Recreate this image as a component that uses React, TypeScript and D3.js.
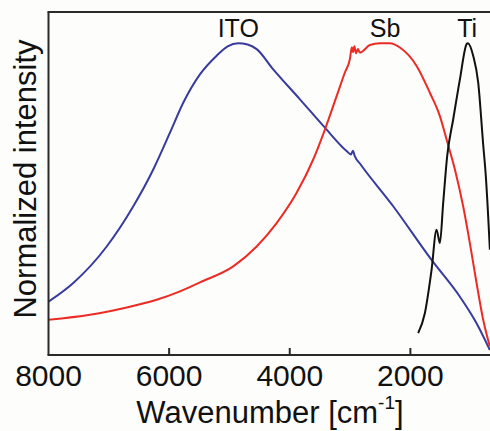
import React, { useEffect, useRef } from 'react';
import * as d3 from 'd3';

// [wavenumber, normalized intensity]
const ito: [number, number][] = [
  [8000, 0.171], [7589, 0.231], [7035, 0.348], [6594, 0.477], [6263, 0.595],
  [5986, 0.713], [5766, 0.809], [5489, 0.9], [5212, 0.96], [5030, 0.99], [4854, 1.0],
  [4700, 0.996], [4549, 0.981], [4274, 0.916], [3831, 0.82], [3417, 0.729], [3057, 0.654],
  [2986, 0.643], [2953, 0.655], [2920, 0.637], [2837, 0.614], [2285, 0.477],
  [1649, 0.305], [1179, 0.187], [903, 0.102], [682, 0.016],
];

const sb: [number, number][] = [
  [8000, 0.113], [7312, 0.129], [6760, 0.15], [6207, 0.177], [5820, 0.204],
  [5489, 0.233], [4937, 0.284], [4549, 0.348], [4218, 0.423], [3886, 0.52],
  [3611, 0.627], [3417, 0.723], [3223, 0.83], [3086, 0.906], [3003, 0.949],
  [2970, 0.987], [2953, 0.971], [2928, 0.99], [2903, 0.968], [2870, 0.981],
  [2837, 0.97], [2671, 0.994], [2506, 1.0], [2340, 1.0], [2174, 0.986],
  [1897, 0.927], [1677, 0.841], [1511, 0.766], [1400, 0.691], [1262, 0.595],
  [1125, 0.477], [1014, 0.359], [903, 0.231], [793, 0.113], [682, 0.027],
];

const ti: [number, number][] = [
  [1871, 0.07], [1760, 0.134], [1649, 0.273], [1566, 0.402], [1511, 0.359],
  [1456, 0.488], [1390, 0.638], [1290, 0.756], [1179, 0.884], [1068, 0.997],
  [1047, 1.0], [959, 0.96], [876, 0.874], [793, 0.675], [749, 0.573], [682, 0.338],
];

const xTicks = [8000, 6000, 4000, 2000];

const series = [
  { name: 'ITO', data: ito, color: '#373b9c', labelAt: 4854 },
  { name: 'Sb', data: sb, color: '#ec2b24', labelAt: 2420 },
  { name: 'Ti', data: ti, color: '#111111', labelAt: 1060 },
];

const W = 490;
const H = 431;

export default function App() {
  const svgRef = useRef<SVGSVGElement>(null);

  useEffect(() => {
    const margin = { top: 12, left: 48.5, bottom: 76 };
    const svg = d3.select(svgRef.current);
    svg.selectAll('*').remove();

    const x = d3.scaleLinear().domain([8000, 680]).range([margin.left, W]);
    const y = d3.scaleLinear().domain([0, 1.1]).range([H - margin.bottom, margin.top]);
    const bottom = H - margin.bottom;

    const line = d3
      .line<[number, number]>()
      .x((d) => x(d[0]))
      .y((d) => y(d[1]))
      .curve(d3.curveMonotoneX);

    svg
      .selectAll('path.series')
      .data(series)
      .enter()
      .append('path')
      .attr('class', 'series')
      .attr('d', (d) => line(d.data))
      .attr('fill', 'none')
      .attr('stroke', (d) => d.color)
      .attr('stroke-width', 2);

    // frame: left, top, bottom (right side is cut off)
    const frame = svg.append('g').attr('stroke', '#2a2a2a').attr('stroke-width', 2);
    frame.append('line').attr('x1', margin.left).attr('x2', margin.left).attr('y1', margin.top).attr('y2', bottom);
    frame.append('line').attr('x1', margin.left - 1).attr('x2', W).attr('y1', margin.top).attr('y2', margin.top);
    frame.append('line').attr('x1', margin.left - 1).attr('x2', W).attr('y1', bottom).attr('y2', bottom);

    frame
      .selectAll('line.tick')
      .data(xTicks.slice(1))
      .enter()
      .append('line')
      .attr('class', 'tick')
      .attr('x1', (d) => x(d))
      .attr('x2', (d) => x(d))
      .attr('y1', bottom)
      .attr('y2', bottom - 7);

    const font = 'Liberation Sans, Arial, Helvetica, sans-serif';

    svg
      .selectAll('text.xtick')
      .data(xTicks)
      .enter()
      .append('text')
      .attr('class', 'xtick')
      .attr('x', (d) => x(d))
      .attr('y', 386)
      .attr('text-anchor', 'middle')
      .attr('font-family', font)
      .attr('font-size', 30)
      .attr('fill', '#111')
      .text((d) => d);

    const xt = svg
      .append('text')
      .attr('x', 270)
      .attr('y', 423)
      .attr('text-anchor', 'middle')
      .attr('font-family', font)
      .attr('font-size', 31)
      .attr('fill', '#111');
    xt.append('tspan').text('Wavenumber [cm');
    xt.append('tspan').attr('font-size', 19).attr('dy', -14).text('-1');
    xt.append('tspan').attr('dy', 14).text(']');

    svg
      .append('text')
      .attr('transform', `translate(36,179) rotate(-90)`)
      .attr('text-anchor', 'middle')
      .attr('font-family', font)
      .attr('font-size', 31)
      .attr('fill', '#111')
      .text('Normalized intensity');

    svg
      .selectAll('text.label')
      .data(series)
      .enter()
      .append('text')
      .attr('class', 'label')
      .attr('x', (d) => x(d.labelAt))
      .attr('y', 37)
      .attr('text-anchor', 'middle')
      .attr('font-family', font)
      .attr('font-size', 25)
      .attr('fill', '#111')
      .text((d) => d.name);
  }, []);

  return (
    <svg
      ref={svgRef}
      width={W}
      height={H}
      style={{ position: 'absolute', left: 0, top: 0, background: '#fdfdfc' }}
    />
  );
}
